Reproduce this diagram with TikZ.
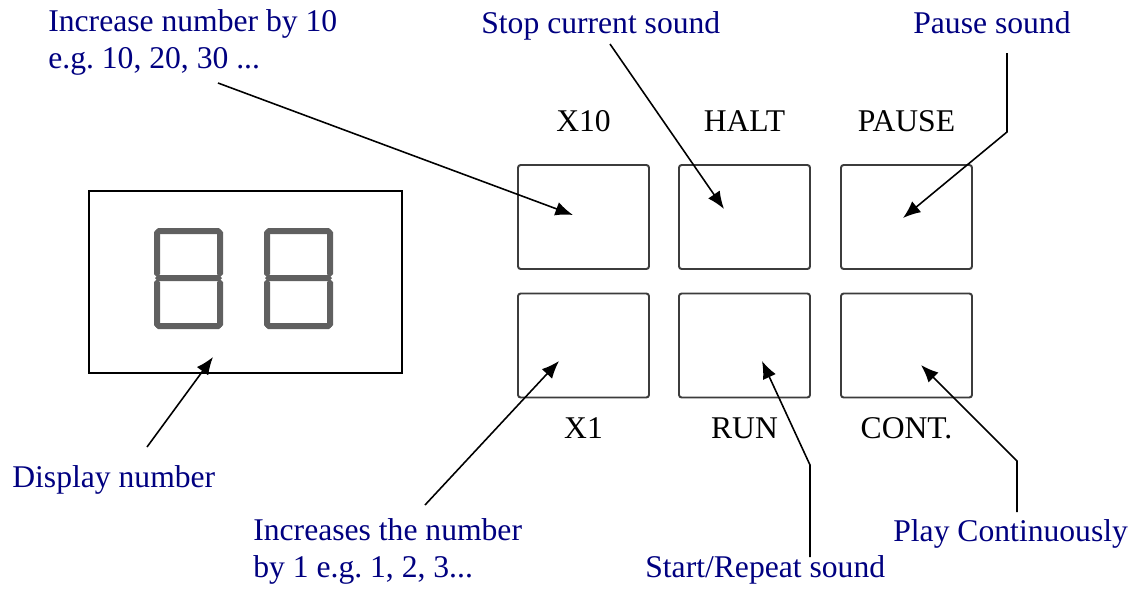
\documentclass[tikz,border=0pt]{standalone}
\usepackage{fontspec}
\setmainfont{Liberation Serif}
\usetikzlibrary{arrows.meta}
\usetikzlibrary{positioning}
\definecolor{notec}{RGB}{0,0,128}
\definecolor{segc}{RGB}{96,96,96}
\definecolor{keyc}{RGB}{60,60,60}

% one bar of the seven segment display
\newcommand{\hseg}[3]{\fill[segc] (#1,#3) -- (#1+3,#3-3) -- (#2-3,#3-3)
  -- (#2,#3) -- (#2-3,#3+3) -- (#1+3,#3+3) -- cycle;}
\newcommand{\vseg}[3]{\fill[segc] (#1,#2) -- (#1+3,#2+3) -- (#1+3,#3-3)
  -- (#1,#3) -- (#1-3,#3-3) -- (#1-3,#2+3) -- cycle;}

\begin{document}
\begin{tikzpicture}[x=0.02cm,y=-0.02cm,
    note/.style={text=notec,inner sep=0pt,anchor=base west,align=left,
      font=\fontsize{18}{20.5}\selectfont},
    keylbl/.style={inner sep=0pt,font=\fontsize{18}{21}\selectfont},
    key/.style={draw=keyc,line width=1.1pt,rounded corners=1.5pt,
      minimum width=2.62cm,minimum height=2.08cm},
    ptr/.style={line width=0.9pt,-{Latex[length=10pt,width=8pt]}}]
        \useasboundingbox (0,0) rectangle (1134,589);

        % display
        \node[draw,line width=0.9pt,minimum width=6.26cm,minimum height=3.64cm]
          (disp) at (245.5,282) {};
        \foreach \dx in {154,264} {
          \begin{scope}[shift={(\dx,0)}]
            \hseg{1}{68}{231} \hseg{1}{68}{278} \hseg{1}{68}{326}
            \vseg{3}{229}{277} \vseg{3}{279}{328}
            \vseg{66}{229}{277} \vseg{66}{279}{328}
          \end{scope}
        }

        % keys
        \node[key] (bx10) at (583.5,217) {};
        \node[key] (bhalt) at (744.5,217) {};
        \node[key] (bpause) at (906.5,217) {};
        \node[key] (bxone) at (583.5,345.5) {};
        \node[key] (brun) at (744.5,345.5) {};
        \node[key] (bcont) at (906.5,345.5) {};

        \node[keylbl,above=0.64cm of bx10] (lx10) {X10};
        \node[keylbl,above=0.64cm of bhalt] (lhalt) {HALT};
        \node[keylbl,above=0.64cm of bpause] (lpause) {PAUSE};
        \node[keylbl,below=0.38cm of bxone] (lxone) {X1};
        \node[keylbl,below=0.38cm of brun] (lrun) {RUN};
        \node[keylbl,below=0.38cm of bcont] (lcont) {CONT.};

        % notes
        \node[note] (ninc10) at (48,68) {Increase number by 10\\e.g.\ 10, 20, 30 ...};
        \node[note] (nstop) at (481,33) {Stop current sound};
        \node[note] (npause) at (913,33) {Pause sound};
        \node[note] (ndisp) at (12,487) {Display number};
        \node[note] (ninc1) at (253,577) {Increases the number\\by 1 e.g.\ 1, 2, 3...};
        \node[note] (nrun) at (645,577) {Start/Repeat sound};
        \node[note] (ncont) at (893,541) {Play Continuously};

        % pointers
        \coordinate (a10) at (218,83); \coordinate (p10) at (573,215);
        \coordinate (ahalt) at (610,44); \coordinate (phalt) at (724,209);
        \coordinate (apause) at (1007,53); \coordinate (kpause) at (1007,132);
        \coordinate (ppause) at (903,218);
        \coordinate (adisp) at (147,447); \coordinate (pdisp) at (213,357);
        \coordinate (aone) at (425,505); \coordinate (pone) at (559,361);
        \coordinate (arun) at (810,557); \coordinate (krun) at (810,465);
        \coordinate (prun) at (762,361);
        \coordinate (acont) at (1017,512); \coordinate (kcont) at (1017,461);
        \coordinate (pcont) at (921,365);

        \draw[ptr] (a10) -- (p10);
        \draw[ptr] (ahalt) -- (phalt);
        \draw[ptr] (apause) -- (kpause) -- (ppause);
        \draw[ptr] (adisp) -- (pdisp);
        \draw[ptr] (aone) -- (pone);
        \draw[ptr] (arun) -- (krun) -- (prun);
        \draw[ptr] (acont) -- (kcont) -- (pcont);
\end{tikzpicture}
\end{document}
